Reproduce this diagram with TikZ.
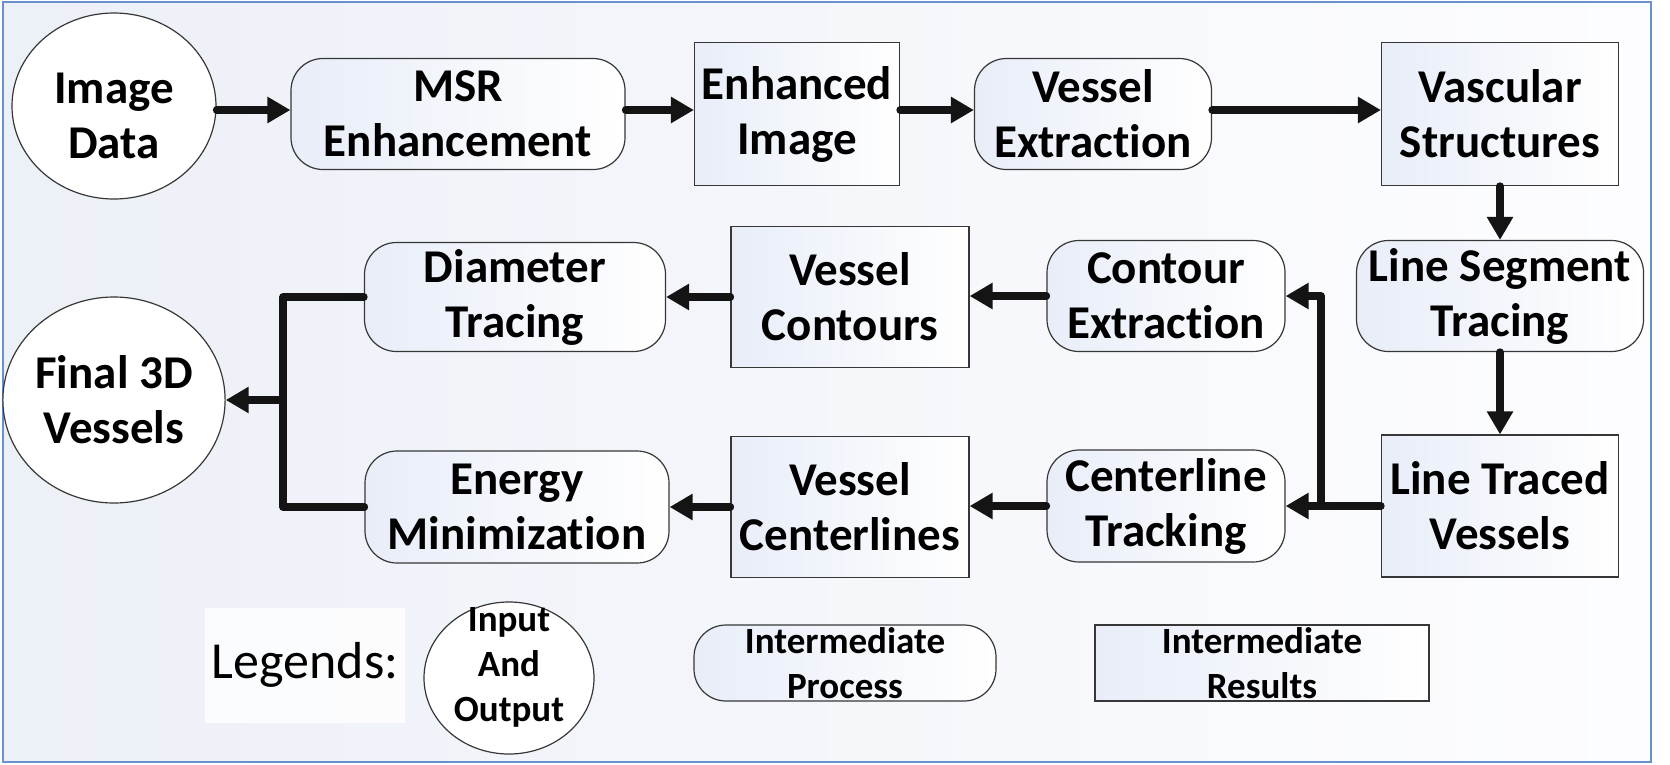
\documentclass[tikz,border=0pt]{standalone}
\usepackage{fontspec}
\setmainfont[Ligatures={NoCommon,NoContextual,NoRare}]{Carlito}
\usetikzlibrary{shapes.geometric,arrows.meta}
\definecolor{tint}{RGB}{232,237,248}
\definecolor{bgl}{RGB}{236,240,247}
\definecolor{bgr}{RGB}{253,253,255}
\definecolor{framec}{RGB}{105,145,205}
\definecolor{edgec}{RGB}{55,55,55}
\begin{document}
\begin{tikzpicture}[x=1pt,y=-1pt,
  base/.style={draw=edgec,line width=1.2pt,inner sep=0pt,align=center,
    font=\bfseries\fontsize{47}{55}\selectfont},
  io/.style={base,ellipse,fill=white},
  proc/.style={base,rectangle,rounded corners=32pt,left color=tint,middle color=white,right color=white},
  res/.style={base,rectangle,left color=tint,middle color=white,right color=white},
  conn/.style={line width=7.5pt,line cap=round,line join=round,draw=black!92,
    -{Triangle[length=23pt,width=25pt]}},
  plain/.style={line width=7.5pt,line cap=round,line join=round,draw=black!92},
  legtext/.style={font=\bfseries\fontsize{37}{45}\selectfont,align=center}
]
\useasboundingbox (0,0) rectangle (1670,764);
\draw[framec,line width=1.5pt,left color=bgl,right color=bgr] (3,2) rectangle (1651,762);

% top row
\node[io, minimum width=204pt, minimum height=186pt] (img) at (114,106) {\rule{0pt}{50pt}Image\\Data};
\node[proc, minimum width=334pt, minimum height=111pt] (msr) at (458,114) {MSR\\Enhancement};
\node[res, minimum width=205pt, minimum height=143pt] (enh) at (797,114) {Enhanced\\Image};
\node[proc, minimum width=237pt, minimum height=111pt] (vext) at (1093,114) {Vessel\\Extraction};
\node[res, minimum width=237pt, minimum height=143pt] (vasc) at (1500,114) {Vascular\\Structures};
% right column
\node[proc, minimum width=287pt, minimum height=111pt] (lseg) at (1500,296) {Line Segment\\Tracing};
\node[res, minimum width=237pt, minimum height=142pt] (ltv) at (1500,506) {Line Traced\\Vessels};
% middle rows
\node[proc, minimum width=238pt, minimum height=111pt] (cext) at (1166,296) {Contour\\Extraction};
\node[proc, minimum width=238pt, minimum height=112pt] (ctrk) at (1166,506) {Centerline\\Tracking};
\node[res, minimum width=238pt, minimum height=141pt] (vcont) at (850,297) {Vessel\\Contours};
\node[res, minimum width=238pt, minimum height=141pt] (vcent) at (850,507) {Vessel\\Centerlines};
\node[proc, minimum width=301pt, minimum height=109pt] (diam) at (515,297) {Diameter\\Tracing};
\node[proc, minimum width=304pt, minimum height=112pt] (energy) at (517,507) {Energy\\Minimization};
\node[io, minimum width=205pt, minimum height=206pt] (final) at (114,400) {Final 3D\\Vessels};

% legend
\node[fill=white, fill opacity=0.8, text opacity=1, minimum width=200pt, minimum height=115pt, inner sep=0pt,
  font=\fontsize{52}{60}\selectfont] (leg) at (305,665) {Legends:};
\node[io, minimum width=170pt, minimum height=152pt,
  label={[legtext,yshift=11pt]center:Input\\And\\Output}] (legio) at (509,678) {};
\node[proc, minimum width=302pt, minimum height=76pt,
  label={[legtext]center:Intermediate\\Process}] (legp) at (845,663) {};
\node[res, minimum width=334pt, minimum height=76pt,
  label={[legtext]center:Intermediate\\Results}] (legr) at (1262,663) {};

% connectors
\draw[conn] (img.east |- 0,110) -- (msr.west |- 0,110);
\draw[conn] (msr.east |- 0,110) -- (enh.west |- 0,110);
\draw[conn] (enh.east |- 0,110) -- (vext.west |- 0,110);
\draw[conn] (vext.east |- 0,110) -- (vasc.west |- 0,110);
\draw[conn] (vasc.south) -- (lseg.north);
\draw[conn] (lseg.south) -- (ltv.north);
\coordinate (split) at (1321,506);
\draw[conn] (ltv.west) -- (ctrk.east);
\draw[conn] (split) |- (cext.east);
\draw[conn] (cext.west) -- (vcont.east |- cext.west);
\draw[conn] (vcont.west) -- (diam.east |- vcont.west);
\draw[conn] (ctrk.west) -- (vcent.east |- ctrk.west);
\draw[conn] (vcent.west) -- (energy.east |- vcent.west);
\coordinate (join) at (283,400);
\draw[plain] (diam.west) -| (join) |- (energy.west);
\draw[conn] (join) -- (final.east);
\end{tikzpicture}
\end{document}
